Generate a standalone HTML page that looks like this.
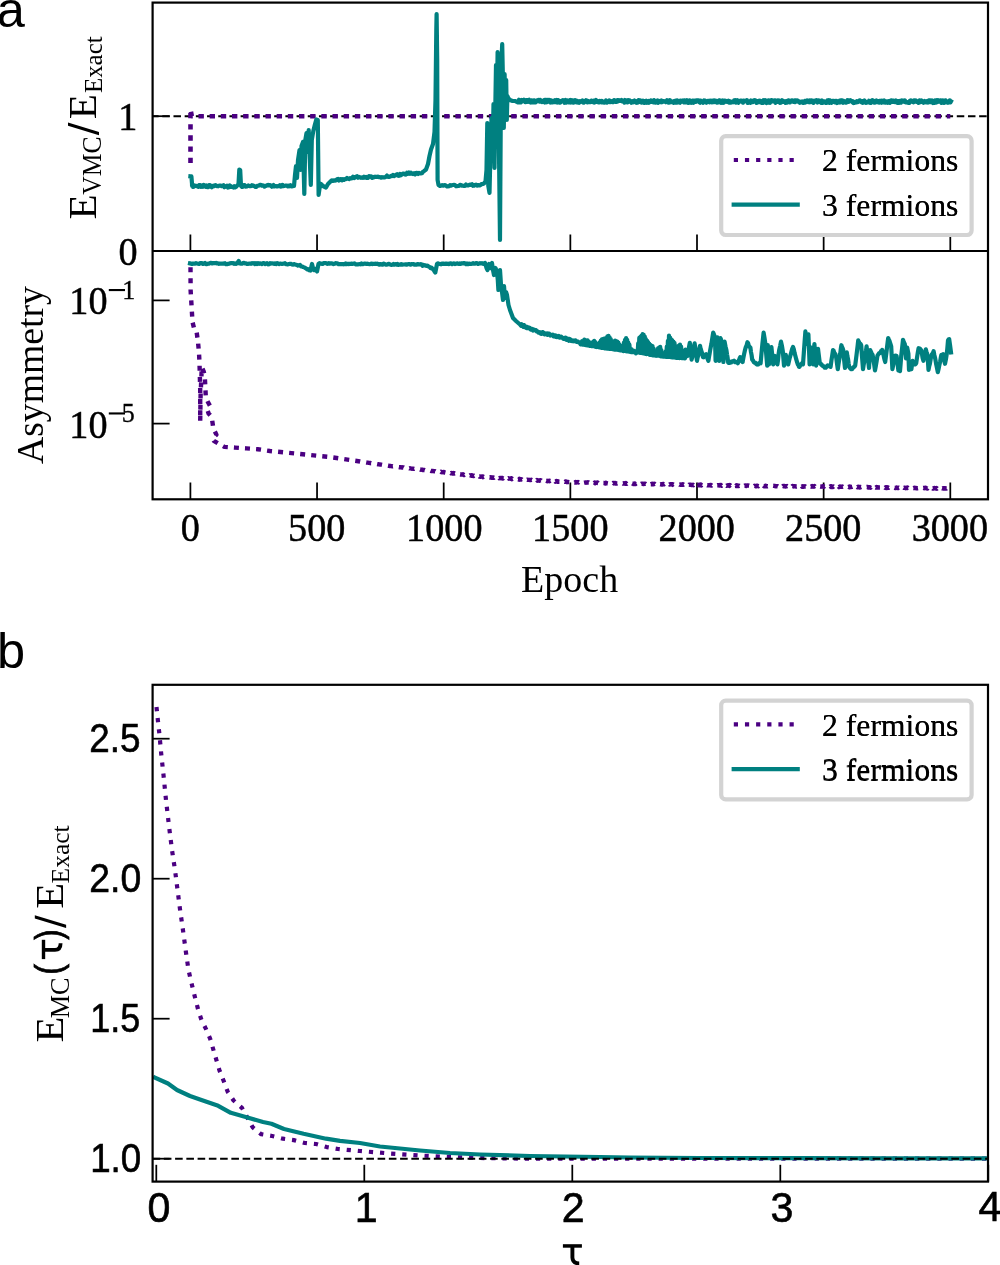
<!DOCTYPE html>
<html><head><meta charset="utf-8"><style>
html,body{margin:0;padding:0;background:#fff;}
svg{display:block;will-change:transform;}
.tk text, text.tk{font-family:"Liberation Serif",serif;font-size:38.5px;fill:#000;}
.tk .sup{font-size:27px;}
.sub{font-size:27px;}
.sk text{font-family:"Liberation Sans",sans-serif;font-size:40.5px;fill:#000;}
.ss{font-family:"Liberation Sans",sans-serif;}
.lg{font-family:"Liberation Serif",serif;font-size:31.7px;fill:#000;}
.pl{font-family:"Liberation Sans",sans-serif;font-size:50.5px;fill:#000;}
</style></head><body>
<svg width="1000" height="1265" viewBox="0 0 1000 1265">
<rect width="1000" height="1265" fill="#fff"/>
<g stroke="#000" stroke-width="1.75" fill="none" stroke-linecap="butt">
<line x1="190.4" y1="234.5" x2="190.4" y2="251"/>
<line x1="190.4" y1="482.5" x2="190.4" y2="499.3"/>
<line x1="317.05" y1="234.5" x2="317.05" y2="251"/>
<line x1="317.05" y1="482.5" x2="317.05" y2="499.3"/>
<line x1="443.7" y1="234.5" x2="443.7" y2="251"/>
<line x1="443.7" y1="482.5" x2="443.7" y2="499.3"/>
<line x1="570.35" y1="234.5" x2="570.35" y2="251"/>
<line x1="570.35" y1="482.5" x2="570.35" y2="499.3"/>
<line x1="697.0" y1="234.5" x2="697.0" y2="251"/>
<line x1="697.0" y1="482.5" x2="697.0" y2="499.3"/>
<line x1="823.65" y1="234.5" x2="823.65" y2="251"/>
<line x1="823.65" y1="482.5" x2="823.65" y2="499.3"/>
<line x1="950.3" y1="234.5" x2="950.3" y2="251"/>
<line x1="950.3" y1="482.5" x2="950.3" y2="499.3"/>
<line x1="152.6" y1="116.2" x2="169.6" y2="116.2"/>
<line x1="152.6" y1="251" x2="169.6" y2="251"/>
<line x1="152.6" y1="300.4" x2="169.6" y2="300.4"/>
<line x1="152.6" y1="423.6" x2="169.6" y2="423.6"/>
<line x1="156.3" y1="1164.8" x2="156.3" y2="1181.6"/>
<line x1="364.3" y1="1164.8" x2="364.3" y2="1181.6"/>
<line x1="572.3" y1="1164.8" x2="572.3" y2="1181.6"/>
<line x1="780.3" y1="1164.8" x2="780.3" y2="1181.6"/>
<line x1="988.3" y1="1164.8" x2="988.3" y2="1181.6"/>
<line x1="152.6" y1="1158.7" x2="169.6" y2="1158.7"/>
<line x1="152.6" y1="1018.7" x2="169.6" y2="1018.7"/>
<line x1="152.6" y1="878.7" x2="169.6" y2="878.7"/>
<line x1="152.6" y1="738.7" x2="169.6" y2="738.7"/>
</g>
<line x1="152.6" y1="116.2" x2="988" y2="116.2" stroke="#000" stroke-width="2" stroke-dasharray="7.5 3.69" stroke-dashoffset="1.5"/>
<clipPath id="cA"><rect x="152.6" y="2.6" width="835.4" height="248.4"/></clipPath>
<clipPath id="cB"><rect x="152.6" y="251" width="835.4" height="248.3"/></clipPath>
<clipPath id="cC"><rect x="152.6" y="684.8" width="835.4" height="496.8"/></clipPath>
<g clip-path="url(#cA)">
<polyline points="190.5,166.0 190.5,109.5 191.8,116.2 950.3,116.2" fill="none" stroke="#4B0082" stroke-width="4.6" stroke-linejoin="round" stroke-linecap="butt" stroke-dasharray="5.4 5.77"  stroke-dashoffset="8.21"/>
<polyline points="190.4,176.3 191.4,176.4 192.2,186.0 192.0,185.1 192.9,186.9 193.8,186.7 194.7,185.5 195.6,186.0 196.5,185.9 197.4,186.4 198.3,186.8 199.2,185.1 200.1,185.0 201.0,186.9 201.9,186.0 202.8,186.8 203.7,184.9 204.6,186.0 205.5,186.7 206.4,185.5 207.3,187.2 208.2,187.2 209.1,185.1 210.0,185.1 210.9,186.3 211.8,187.3 212.7,186.0 213.6,185.6 214.5,186.1 215.4,185.1 216.3,185.6 217.2,186.1 218.1,186.3 219.0,185.7 219.9,185.7 220.8,185.6 221.7,186.2 222.6,185.8 223.5,185.2 224.4,187.2 225.3,186.5 226.2,186.7 227.1,185.6 228.0,187.6 228.9,187.3 229.8,185.5 230.7,186.0 231.6,187.0 232.5,187.0 233.4,187.5 234.3,186.3 235.2,187.3 236.1,186.9 238.5,184.0 239.3,169.5 240.2,170.0 241.0,186.0 242.0,186.9 242.9,186.9 243.8,185.1 244.7,185.1 245.6,186.6 246.5,186.4 247.4,186.3 248.3,185.5 249.2,186.1 250.1,186.1 251.0,186.1 251.9,185.2 252.8,185.8 253.7,185.7 254.6,186.3 255.5,186.9 256.4,186.8 257.3,185.9 258.2,185.7 259.1,185.4 260.0,184.9 260.9,184.9 261.8,185.7 262.7,185.4 263.6,185.5 264.5,186.6 265.4,185.8 266.3,185.9 267.2,185.2 268.1,184.8 269.0,185.4 269.9,185.0 270.8,185.7 271.7,186.7 272.6,186.1 273.5,185.1 274.4,186.5 275.3,186.3 276.2,186.1 277.1,186.5 278.0,186.2 278.9,186.2 279.8,185.3 280.7,186.6 281.6,186.5 282.5,184.9 283.4,186.1 284.3,186.0 285.2,185.5 286.1,185.6 287.0,185.5 287.9,186.4 288.8,185.6 289.7,186.2 290.6,185.2 291.5,186.3 292.4,186.3 294.0,186.0 295.0,175.0 296.0,166.0 297.0,178.0 298.0,160.0 299.5,150.0 300.5,170.0 301.5,146.0 303.0,142.0 304.3,194.0 305.3,140.0 306.5,133.0 307.5,152.0 308.7,130.0 309.8,160.0 310.8,185.0 311.8,140.0 313.3,131.0 314.8,125.0 316.3,119.5 317.8,120.0 318.6,195.0 319.6,188.0 321.0,184.0 323.0,186.0 326.0,187.5 328.0,184.0 331.0,181.0 332.0,180.3 333.0,180.8 334.0,180.3 335.0,180.6 336.0,180.5 337.0,179.3 338.0,179.0 339.0,180.5 340.0,179.2 341.0,179.0 342.0,180.4 343.0,179.2 344.0,179.8 345.0,179.0 346.0,179.1 347.0,178.0 348.0,178.8 349.0,179.1 350.0,178.2 351.0,178.5 352.0,178.2 353.0,176.8 354.0,178.0 355.0,177.5 356.0,176.8 357.0,176.1 358.0,177.7 359.0,176.9 360.0,177.4 361.0,177.8 362.0,177.4 363.0,177.8 364.0,176.8 365.0,177.6 366.0,176.9 367.0,177.9 368.0,177.8 369.0,176.2 370.0,176.3 371.0,176.4 372.0,177.9 373.0,176.9 374.0,177.3 375.0,176.6 376.0,177.0 377.0,176.8 378.0,176.7 379.0,177.2 380.0,177.2 381.0,177.7 382.0,177.1 383.0,177.5 384.0,177.3 385.0,177.4 386.0,176.7 387.0,175.5 388.0,176.8 389.0,176.9 390.0,176.7 391.0,175.9 392.0,176.1 393.0,175.0 394.0,176.1 395.0,175.5 396.0,174.8 397.0,174.2 398.0,175.7 399.0,175.8 400.0,173.9 401.0,175.2 402.0,174.2 403.0,173.6 404.0,173.7 405.0,174.5 406.0,174.6 407.0,172.8 408.0,173.8 409.0,172.5 410.0,173.7 411.0,172.8 412.0,173.8 413.0,174.1 414.0,173.3 415.0,174.4 416.0,173.1 417.0,172.8 418.0,173.9 419.0,172.9 420.0,173.4 421.0,173.3 422.0,173.2 423.0,171.8 424.0,171.1 426.0,169.5 428.0,164.0 429.5,156.0 431.0,149.5 433.0,144.0 434.5,132.0 435.5,100.0 436.3,30.0 436.6,14.0 437.2,60.0 437.6,180.0 438.5,185.0 440.0,186.0 441.0,185.5 442.0,185.2 443.0,185.7 444.0,185.3 445.0,185.1 446.0,185.6 447.0,186.5 448.0,186.3 449.0,186.2 450.0,185.2 451.0,185.7 452.0,185.2 453.0,185.0 454.0,184.9 455.0,185.0 456.0,186.3 457.0,186.1 458.0,186.0 459.0,186.0 460.0,184.8 461.0,185.0 462.0,185.6 463.0,185.7 464.0,185.9 465.0,185.9 466.0,184.5 467.0,185.4 468.0,185.5 469.0,185.1 470.0,184.5 471.0,185.0 472.0,184.3 473.0,185.8 474.0,185.6 475.0,185.0 476.0,184.6 477.0,185.6 478.0,185.0 479.0,185.5 480.0,185.4 481.0,184.5 482.0,184.0 483.0,184.0 484.0,183.4 485.5,181.5 486.5,170.0 487.3,123.0 488.3,186.0 489.5,193.0 490.5,150.0 491.5,118.0 492.5,160.0 493.5,104.0 494.5,168.0 495.3,108.0 496.0,65.0 496.8,115.0 497.6,52.0 498.4,95.0 499.2,170.0 500.0,240.0 500.8,110.0 501.6,58.0 502.2,44.0 503.0,82.0 503.8,128.0 504.6,74.0 505.4,110.0 506.2,80.0 506.8,120.0 507.4,96.0 508.3,98.0 510.0,100.0 512.0,100.8 515.0,101.0 516.0,101.4 516.5,101.7 517.0,101.8 517.5,102.3 518.0,101.7 518.5,102.2 519.0,99.7 519.5,100.9 520.0,102.3 520.5,101.5 521.0,102.2 521.5,100.0 522.0,101.0 522.5,100.3 523.0,101.2 523.5,101.3 524.0,99.7 524.5,100.3 525.0,100.4 525.5,102.2 526.0,101.8 526.5,100.1 527.0,101.9 527.5,100.1 528.0,101.4 528.5,100.0 529.0,99.7 529.5,102.1 530.0,100.3 530.5,100.3 531.0,102.5 531.5,102.2 532.0,100.5 532.5,102.4 533.0,101.2 533.5,101.6 534.0,100.3 534.5,102.4 535.0,101.7 535.5,102.4 536.0,102.2 536.5,100.6 537.0,100.8 537.5,100.2 538.0,100.2 538.5,99.9 539.0,100.6 539.5,101.5 540.0,99.8 540.5,101.7 541.0,100.7 541.5,100.6 542.0,102.1 542.5,101.1 543.0,100.7 543.5,101.1 544.0,101.8 544.5,100.0 545.0,102.5 545.5,99.9 546.0,101.9 546.5,102.2 547.0,99.9 547.5,102.0 548.0,100.8 548.5,101.4 549.0,99.9 549.5,100.0 550.0,100.3 550.5,102.5 551.0,100.4 551.5,102.0 552.0,102.4 552.5,102.5 553.0,100.8 553.5,100.9 554.0,101.3 554.5,102.0 555.0,100.2 555.5,102.0 556.0,102.1 556.5,102.3 557.0,100.0 557.5,102.5 558.0,100.1 558.5,100.8 559.0,101.6 559.5,102.5 560.0,100.9 560.5,102.5 561.0,101.4 561.5,100.8 562.0,100.8 562.5,100.4 563.0,100.1 563.5,100.3 564.0,101.8 564.5,102.7 565.0,100.4 565.5,100.0 566.0,102.7 566.5,101.4 567.0,101.1 567.5,100.6 568.0,101.6 568.5,102.2 569.0,101.2 569.5,101.1 570.0,100.1 570.5,102.5 571.0,100.0 571.5,101.3 572.0,102.3 572.5,100.3 573.0,102.0 573.5,102.6 574.0,101.7 574.5,102.1 575.0,100.2 575.5,101.1 576.0,100.4 576.5,102.3 577.0,100.8 577.5,101.2 578.0,102.7 578.5,102.3 579.0,102.7 579.5,101.2 580.0,101.3 580.5,102.0 581.0,101.3 581.5,100.8 582.0,101.1 582.5,100.4 583.0,101.0 583.5,102.7 584.0,102.6 584.5,101.7 585.0,101.4 585.5,100.9 586.0,100.2 586.5,100.7 587.0,102.1 587.5,102.4 588.0,101.0 588.5,102.2 589.0,102.1 589.5,101.9 590.0,101.8 590.5,102.1 591.0,101.0 591.5,101.9 592.0,100.8 592.5,101.3 593.0,102.1 593.5,101.9 594.0,100.8 594.5,102.6 595.0,101.8 595.5,101.6 596.0,100.0 596.5,101.5 597.0,100.7 597.5,101.9 598.0,101.3 598.5,102.3 599.0,101.8 599.5,102.2 600.0,101.0 600.5,101.8 601.0,102.1 601.5,102.3 602.0,101.0 602.5,102.4 603.0,102.4 603.5,101.9 604.0,102.7 604.5,102.7 605.0,101.4 605.5,101.5 606.0,100.5 606.5,102.3 607.0,102.6 607.5,101.3 608.0,101.9 608.5,102.0 609.0,102.0 609.5,100.5 610.0,102.2 610.5,101.6 611.0,101.9 611.5,101.2 612.0,101.8 612.5,102.2 613.0,101.8 613.5,102.0 614.0,100.1 614.5,100.5 615.0,101.3 615.5,101.8 616.0,100.6 616.5,101.9 617.0,101.8 617.5,100.1 618.0,101.3 618.5,100.7 619.0,100.2 619.5,100.4 620.0,100.9 620.5,100.5 621.0,100.6 621.5,100.1 622.0,101.3 622.5,101.1 623.0,101.7 623.5,101.7 624.0,100.7 624.5,102.6 625.0,100.0 625.5,101.2 626.0,100.8 626.5,101.2 627.0,100.4 627.5,102.4 628.0,101.1 628.5,100.1 629.0,101.8 629.5,100.3 630.0,101.6 630.5,101.0 631.0,101.7 631.5,102.7 632.0,102.3 632.5,101.2 633.0,102.3 633.5,101.9 634.0,101.1 634.5,100.5 635.0,101.7 635.5,101.6 636.0,102.7 636.5,102.8 637.0,101.8 637.5,101.0 638.0,102.6 638.5,100.1 639.0,100.4 639.5,101.7 640.0,101.8 640.5,100.5 641.0,101.8 641.5,102.6 642.0,101.1 642.5,101.3 643.0,100.7 643.5,100.9 644.0,102.8 644.5,101.1 645.0,102.8 645.5,102.6 646.0,101.8 646.5,100.8 647.0,102.8 647.5,101.5 648.0,101.3 648.5,101.0 649.0,102.8 649.5,101.5 650.0,100.9 650.5,101.4 651.0,100.4 651.5,101.8 652.0,101.3 652.5,100.9 653.0,102.3 653.5,102.4 654.0,100.1 654.5,101.6 655.0,100.9 655.5,102.7 656.0,102.3 656.5,100.8 657.0,100.9 657.5,100.5 658.0,102.9 658.5,100.9 659.0,101.8 659.5,101.4 660.0,101.9 660.5,101.8 661.0,102.2 661.5,100.4 662.0,102.2 662.5,101.0 663.0,101.6 663.5,101.1 664.0,101.0 664.5,101.6 665.0,101.4 665.5,101.1 666.0,102.2 666.5,101.8 667.0,100.2 667.5,100.8 668.0,101.4 668.5,102.7 669.0,102.6 669.5,101.7 670.0,100.2 670.5,102.3 671.0,101.3 671.5,101.8 672.0,102.1 672.5,101.9 673.0,101.5 673.5,102.7 674.0,101.2 674.5,101.2 675.0,102.5 675.5,100.7 676.0,101.0 676.5,102.5 677.0,100.3 677.5,102.5 678.0,102.1 678.5,101.4 679.0,101.0 679.5,102.3 680.0,102.7 680.5,100.6 681.0,101.5 681.5,101.7 682.0,101.6 682.5,101.1 683.0,100.6 683.5,101.8 684.0,102.4 684.5,100.4 685.0,100.8 685.5,102.5 686.0,102.4 686.5,102.0 687.0,100.2 687.5,102.2 688.0,102.9 688.5,103.0 689.0,102.1 689.5,100.3 690.0,102.5 690.5,100.8 691.0,102.0 691.5,102.8 692.0,102.2 692.5,100.6 693.0,101.0 693.5,102.8 694.0,100.6 694.5,101.9 695.0,101.3 695.5,100.6 696.0,101.9 696.5,100.3 697.0,100.5 697.5,101.3 698.0,100.4 698.5,100.4 699.0,101.8 699.5,102.3 700.0,102.7 700.5,100.6 701.0,101.4 701.5,101.1 702.0,101.9 702.5,101.6 703.0,102.8 703.5,101.2 704.0,100.4 704.5,102.2 705.0,100.6 705.5,102.0 706.0,101.6 706.5,102.7 707.0,101.8 707.5,101.9 708.0,100.9 708.5,101.7 709.0,100.9 709.5,102.3 710.0,101.6 710.5,100.6 711.0,100.9 711.5,101.2 712.0,102.3 712.5,100.7 713.0,102.2 713.5,102.0 714.0,100.4 714.5,102.1 715.0,100.5 715.5,100.5 716.0,101.9 716.5,100.9 717.0,102.7 717.5,101.5 718.0,101.1 718.5,102.4 719.0,100.3 719.5,102.2 720.0,100.4 720.5,100.6 721.0,102.9 721.5,102.1 722.0,100.8 722.5,100.5 723.0,102.9 723.5,102.1 724.0,102.5 724.5,100.6 725.0,101.9 725.5,101.2 726.0,100.9 726.5,101.1 727.0,101.9 727.5,101.2 728.0,101.3 728.5,100.6 729.0,102.5 729.5,102.0 730.0,102.5 730.5,101.4 731.0,102.6 731.5,101.6 732.0,101.9 732.5,101.8 733.0,102.3 733.5,101.3 734.0,100.5 734.5,100.3 735.0,100.8 735.5,100.3 736.0,102.7 736.5,101.5 737.0,102.3 737.5,100.2 738.0,101.5 738.5,102.7 739.0,101.9 739.5,101.4 740.0,101.5 740.5,100.5 741.0,100.6 741.5,100.6 742.0,101.2 742.5,101.3 743.0,102.7 743.5,100.6 744.0,100.9 744.5,101.0 745.0,100.7 745.5,101.0 746.0,100.9 746.5,101.5 747.0,100.3 747.5,102.8 748.0,101.2 748.5,102.8 749.0,102.1 749.5,102.1 750.0,101.5 750.5,102.8 751.0,100.5 751.5,102.1 752.0,101.0 752.5,102.1 753.0,102.2 753.5,100.7 754.0,100.8 754.5,100.3 755.0,100.8 755.5,100.4 756.0,101.3 756.5,102.9 757.0,101.2 757.5,101.1 758.0,101.5 758.5,101.0 759.0,102.3 759.5,102.2 760.0,100.7 760.5,100.9 761.0,102.1 761.5,102.8 762.0,102.0 762.5,101.4 763.0,102.9 763.5,100.2 764.0,100.4 764.5,102.4 765.0,101.3 765.5,100.3 766.0,101.7 766.5,103.0 767.0,101.7 767.5,101.2 768.0,100.5 768.5,100.4 769.0,102.7 769.5,101.6 770.0,102.8 770.5,100.4 771.0,100.9 771.5,100.3 772.0,101.3 772.5,100.4 773.0,100.9 773.5,101.3 774.0,101.1 774.5,100.3 775.0,100.3 775.5,102.9 776.0,100.7 776.5,101.6 777.0,101.3 777.5,101.7 778.0,100.4 778.5,101.1 779.0,100.5 779.5,101.7 780.0,102.8 780.5,101.9 781.0,102.6 781.5,100.8 782.0,100.2 782.5,101.7 783.0,101.6 783.5,101.8 784.0,101.3 784.5,102.0 785.0,102.2 785.5,102.8 786.0,101.1 786.5,101.5 787.0,102.5 787.5,100.8 788.0,100.5 788.5,101.1 789.0,100.4 789.5,102.4 790.0,102.5 790.5,101.1 791.0,100.6 791.5,100.4 792.0,100.9 792.5,100.4 793.0,101.4 793.5,101.8 794.0,100.9 794.5,100.4 795.0,102.2 795.5,100.3 796.0,100.8 796.5,101.0 797.0,101.2 797.5,100.5 798.0,101.4 798.5,101.1 799.0,102.3 799.5,101.8 800.0,102.7 800.5,102.0 801.0,102.3 801.5,101.8 802.0,101.4 802.5,102.5 803.0,102.0 803.5,102.9 804.0,102.2 804.5,102.2 805.0,100.9 805.5,102.5 806.0,101.3 806.5,100.6 807.0,100.4 807.5,100.7 808.0,100.9 808.5,102.1 809.0,101.0 809.5,100.4 810.0,102.3 810.5,101.8 811.0,100.3 811.5,100.3 812.0,100.6 812.5,101.2 813.0,102.6 813.5,102.9 814.0,101.9 814.5,100.8 815.0,101.4 815.5,101.2 816.0,101.1 816.5,100.2 817.0,101.8 817.5,102.5 818.0,102.2 818.5,100.5 819.0,101.7 819.5,100.7 820.0,102.2 820.5,101.4 821.0,102.8 821.5,102.4 822.0,100.5 822.5,101.1 823.0,102.8 823.5,101.5 824.0,101.4 824.5,101.4 825.0,102.3 825.5,102.8 826.0,101.7 826.5,102.9 827.0,101.9 827.5,100.5 828.0,102.5 828.5,101.4 829.0,100.3 829.5,102.9 830.0,100.3 830.5,101.8 831.0,101.5 831.5,102.7 832.0,101.3 832.5,100.8 833.0,101.0 833.5,100.8 834.0,101.8 834.5,101.2 835.0,102.3 835.5,100.9 836.0,101.2 836.5,100.9 837.0,103.0 837.5,102.6 838.0,102.6 838.5,101.9 839.0,101.3 839.5,100.6 840.0,102.5 840.5,101.6 841.0,100.3 841.5,100.7 842.0,100.5 842.5,102.2 843.0,102.7 843.5,100.8 844.0,102.4 844.5,101.1 845.0,102.1 845.5,102.6 846.0,101.9 846.5,102.4 847.0,101.3 847.5,100.2 848.0,101.6 848.5,101.8 849.0,100.7 849.5,101.3 850.0,101.1 850.5,100.3 851.0,101.1 851.5,101.3 852.0,101.5 852.5,102.2 853.0,101.3 853.5,103.0 854.0,102.5 854.5,102.8 855.0,102.1 855.5,102.1 856.0,101.7 856.5,102.4 857.0,101.2 857.5,101.9 858.0,102.1 858.5,101.7 859.0,101.0 859.5,100.4 860.0,100.4 860.5,101.2 861.0,101.8 861.5,102.3 862.0,102.2 862.5,101.1 863.0,102.8 863.5,101.0 864.0,102.2 864.5,100.4 865.0,102.3 865.5,102.1 866.0,102.9 866.5,102.7 867.0,102.1 867.5,102.5 868.0,102.3 868.5,101.9 869.0,100.8 869.5,101.6 870.0,102.7 870.5,100.9 871.0,102.9 871.5,101.7 872.0,101.3 872.5,100.2 873.0,101.3 873.5,100.7 874.0,102.0 874.5,102.7 875.0,102.7 875.5,101.9 876.0,101.3 876.5,100.5 877.0,102.1 877.5,101.7 878.0,102.2 878.5,101.2 879.0,102.7 879.5,100.8 880.0,101.1 880.5,100.9 881.0,101.9 881.5,102.7 882.0,100.7 882.5,102.0 883.0,102.3 883.5,100.8 884.0,100.4 884.5,101.8 885.0,102.5 885.5,102.7 886.0,102.2 886.5,101.4 887.0,101.4 887.5,101.7 888.0,102.7 888.5,101.0 889.0,101.0 889.5,101.9 890.0,102.9 890.5,100.7 891.0,100.3 891.5,100.5 892.0,101.8 892.5,101.9 893.0,100.7 893.5,100.7 894.0,101.9 894.5,102.0 895.0,102.1 895.5,102.2 896.0,100.4 896.5,101.6 897.0,102.5 897.5,102.9 898.0,101.1 898.5,102.6 899.0,102.0 899.5,102.8 900.0,100.8 900.5,102.2 901.0,102.6 901.5,101.5 902.0,100.5 902.5,100.7 903.0,100.6 903.5,100.5 904.0,100.6 904.5,101.9 905.0,100.5 905.5,102.3 906.0,102.3 906.5,102.5 907.0,102.5 907.5,102.2 908.0,102.8 908.5,102.9 909.0,102.0 909.5,102.9 910.0,100.5 910.5,100.5 911.0,100.4 911.5,100.8 912.0,101.2 912.5,101.5 913.0,102.1 913.5,102.3 914.0,100.4 914.5,101.3 915.0,101.7 915.5,101.3 916.0,100.5 916.5,101.9 917.0,101.2 917.5,102.1 918.0,101.6 918.5,102.9 919.0,102.8 919.5,100.4 920.0,102.3 920.5,102.2 921.0,101.0 921.5,100.5 922.0,101.5 922.5,101.2 923.0,102.3 923.5,102.8 924.0,101.3 924.5,101.0 925.0,101.6 925.5,102.2 926.0,102.4 926.5,101.8 927.0,101.0 927.5,101.1 928.0,102.6 928.5,101.7 929.0,100.3 929.5,101.4 930.0,100.9 930.5,102.1 931.0,100.4 931.5,101.0 932.0,100.5 932.5,101.5 933.0,103.0 933.5,101.7 934.0,101.3 934.5,102.8 935.0,100.5 935.5,101.2 936.0,102.5 936.5,100.2 937.0,102.3 937.5,101.2 938.0,100.2 938.5,100.9 939.0,101.5 939.5,101.3 940.0,101.6 940.5,100.3 941.0,100.8 941.5,102.9 942.0,101.4 942.5,101.5 943.0,100.4 943.5,101.0 944.0,102.9 944.5,102.1 945.0,101.6 945.5,100.3 946.0,101.3 946.5,102.4 947.0,101.4 947.5,101.9 948.0,102.7 948.5,102.0 949.0,102.0 949.5,100.3 950.0,100.3 950.5,102.4 951.0,101.4" fill="none" stroke="#008080" stroke-width="4.2" stroke-linejoin="round" stroke-linecap="square" />
</g>
<g clip-path="url(#cB)">
<polyline points="190.5,264.0 190.6,290.0 191.5,305.0 192.5,322.0 194.0,328.0 196.5,331.0 198.0,342.0 199.0,353.0 199.5,363.0 200.2,390.0 200.2,421.0 200.6,395.0 201.8,367.0 203.5,371.0 204.7,375.0 205.3,386.0 205.8,397.0 207.9,402.0 210.0,405.8 207.6,410.5 208.6,413.5 211.7,417.0 213.3,428.2 216.4,434.6 212.6,438.5 213.8,440.8 218.6,443.7 224.4,446.9 235.0,447.6 246.3,448.4 257.7,449.2 270.0,451.0 300.0,454.0 330.0,457.0 360.0,461.5 360.5,461.6 361.0,461.6 361.5,461.7 362.0,461.8 362.5,461.9 363.0,461.9 363.5,462.0 364.0,462.1 364.5,462.2 365.0,462.3 365.5,462.3 366.0,462.4 366.5,462.5 367.0,462.6 367.5,462.6 368.0,462.7 368.5,462.8 369.0,462.9 369.5,462.9 370.0,463.0 370.5,463.0 371.0,463.2 371.5,463.2 372.0,463.3 372.5,463.4 373.0,463.4 373.5,463.5 374.0,463.6 374.5,463.7 375.0,463.8 375.5,463.8 376.0,463.9 376.5,464.0 377.0,464.1 377.5,464.2 378.0,464.2 378.5,464.2 379.0,464.3 379.5,464.4 380.0,464.5 380.5,464.6 381.0,464.6 381.5,464.7 382.0,464.8 382.5,464.9 383.0,464.9 383.5,465.1 384.0,465.0 384.5,465.2 385.0,465.3 385.5,465.4 386.0,465.5 386.5,465.5 387.0,465.5 387.5,465.6 388.0,465.7 388.5,465.8 389.0,465.8 389.5,466.0 390.0,466.0 390.5,466.0 391.0,466.1 391.5,466.1 392.0,466.2 392.5,466.4 393.0,466.3 393.5,466.5 394.0,466.6 394.5,466.6 395.0,466.5 395.5,466.6 396.0,466.7 396.5,466.7 397.0,466.8 397.5,466.8 398.0,467.0 398.5,467.1 399.0,467.2 399.5,467.2 400.0,467.2 400.5,467.1 401.0,467.3 401.5,467.4 402.0,467.5 402.5,467.3 403.0,467.4 403.5,467.5 404.0,467.8 404.5,467.6 405.0,467.7 405.5,467.8 406.0,468.0 406.5,467.8 407.0,467.9 407.5,468.1 408.0,468.0 408.5,468.1 409.0,468.1 409.5,468.4 410.0,468.2 410.5,468.4 411.0,468.4 411.5,468.7 412.0,468.6 412.5,468.7 413.0,468.7 413.5,468.7 414.0,468.9 414.5,468.7 415.0,469.0 415.5,468.9 416.0,469.0 416.5,469.1 417.0,469.0 417.5,469.2 418.0,469.1 418.5,469.1 419.0,469.2 419.5,469.3 420.0,469.5 420.5,469.7 421.0,469.6 421.5,469.7 422.0,469.8 422.5,469.7 423.0,470.0 423.5,469.9 424.0,470.0 424.5,470.0 425.0,470.2 425.5,470.3 426.0,470.1 426.5,470.4 427.0,470.3 427.5,470.3 428.0,470.6 428.5,470.7 429.0,470.7 429.5,470.5 430.0,470.9 430.5,470.8 431.0,471.0 431.5,471.0 432.0,471.1 432.5,470.9 433.0,471.1 433.5,471.2 434.0,471.1 434.5,471.2 435.0,471.2 435.5,471.5 436.0,471.3 436.5,471.5 437.0,471.5 437.5,471.6 438.0,471.5 438.5,471.4 439.0,471.8 439.5,471.6 440.0,471.8 440.5,472.0 441.0,471.7 441.5,472.2 442.0,472.1 442.5,472.2 443.0,472.3 443.5,472.0 444.0,472.0 444.5,472.5 445.0,472.5 445.5,472.6 446.0,472.7 446.5,472.5 447.0,472.5 447.5,473.0 448.0,472.5 448.5,472.8 449.0,473.0 449.5,473.2 450.0,473.0 450.5,472.8 451.0,473.2 451.5,472.9 452.0,473.2 452.5,473.4 453.0,473.6 453.5,473.1 454.0,473.6 454.5,473.3 455.0,473.5 455.5,473.9 456.0,473.9 456.5,473.5 457.0,473.5 457.5,473.6 458.0,474.1 458.5,473.7 459.0,474.2 459.5,474.3 460.0,474.4 460.5,474.5 461.0,474.4 461.5,474.6 462.0,474.4 462.5,474.6 463.0,474.2 463.5,474.6 464.0,475.0 464.5,474.6 465.0,474.9 465.5,474.6 466.0,474.9 466.5,475.0 467.0,475.2 467.5,474.9 468.0,475.1 468.5,474.9 469.0,475.3 469.5,475.6 470.0,475.3 470.5,475.5 471.0,475.5 471.5,475.3 472.0,475.7 472.5,475.4 473.0,475.8 473.5,476.1 474.0,475.7 474.5,476.0 475.0,475.8 475.5,476.1 476.0,475.8 476.5,476.1 477.0,476.4 477.5,476.0 478.0,476.2 478.5,476.1 479.0,476.1 479.5,476.6 480.0,476.5 480.5,476.8 481.0,476.6 481.5,476.6 482.0,476.5 482.5,476.5 483.0,477.1 483.5,476.7 484.0,476.9 484.5,476.7 485.0,476.6 485.5,476.5 486.0,476.8 486.5,476.9 487.0,477.0 487.5,477.2 488.0,477.2 488.5,477.4 489.0,477.4 489.5,477.4 490.0,477.5 490.5,477.3 491.0,477.3 491.5,477.7 492.0,477.7 492.5,477.4 493.0,477.8 493.5,477.5 494.0,477.7 494.5,477.2 495.0,477.7 495.5,478.0 496.0,477.7 496.5,478.0 497.0,477.9 497.5,477.4 498.0,477.5 498.5,477.8 499.0,478.3 499.5,478.1 500.0,478.0 500.5,478.1 501.0,478.3 501.5,478.0 502.0,477.9 502.5,478.1 503.0,478.5 503.5,478.0 504.0,478.3 504.5,478.1 505.0,478.2 505.5,478.1 506.0,478.7 506.5,478.2 507.0,478.7 507.5,478.3 508.0,478.5 508.5,478.2 509.0,478.7 509.5,478.6 510.0,478.6 510.5,478.5 511.0,478.8 511.5,478.4 512.0,479.1 512.5,478.8 513.0,479.0 513.5,478.8 514.0,478.6 514.5,478.6 515.0,479.2 515.5,479.0 516.0,478.9 516.5,479.1 517.0,479.4 517.5,479.2 518.0,479.2 518.5,479.3 519.0,479.6 519.5,478.9 520.0,479.5 520.5,479.4 521.0,479.6 521.5,479.2 522.0,479.7 522.5,479.7 523.0,479.4 523.5,479.9 524.0,479.3 524.5,479.7 525.0,479.4 525.5,479.5 526.0,479.8 526.5,479.9 527.0,479.8 527.5,479.6 528.0,479.9 528.5,479.9 529.0,479.8 529.5,479.9 530.0,480.0 530.5,480.0 531.0,480.0 531.5,479.8 532.0,480.1 532.5,480.0 533.0,480.4 533.5,480.5 534.0,480.4 534.5,480.1 535.0,480.2 535.5,480.5 536.0,480.1 536.5,480.6 537.0,480.0 537.5,480.7 538.0,480.4 538.5,480.6 539.0,480.5 539.5,480.7 540.0,480.4 540.5,480.2 541.0,480.3 541.5,480.8 542.0,481.0 542.5,480.4 543.0,480.6 543.5,480.9 544.0,480.6 544.5,480.5 545.0,481.0 545.5,480.5 546.0,480.7 546.5,480.9 547.0,480.8 547.5,481.2 548.0,480.9 548.5,480.9 549.0,480.7 549.5,481.2 550.0,480.7 550.5,480.7 551.0,480.9 551.5,481.3 552.0,480.9 552.5,481.1 553.0,480.8 553.5,481.0 554.0,481.5 554.5,481.5 555.0,480.9 555.5,481.6 556.0,481.3 556.5,481.0 557.0,481.2 557.5,481.7 558.0,481.2 558.5,481.6 559.0,481.8 559.5,481.8 560.0,481.7 560.5,481.8 561.0,481.3 561.5,481.7 562.0,482.0 562.5,481.6 563.0,481.3 563.5,481.5 564.0,481.7 564.5,481.7 565.0,481.9 565.5,481.5 566.0,481.4 566.5,481.9 567.0,482.2 567.5,481.9 568.0,482.0 568.5,482.1 569.0,482.1 569.5,482.2 570.0,482.0 570.5,481.7 571.0,482.2 571.5,482.0 572.0,482.0 572.5,482.3 573.0,481.8 573.5,482.4 574.0,482.4 574.5,482.4 575.0,482.5 575.5,482.0 576.0,482.3 576.5,482.5 577.0,482.3 577.5,482.4 578.0,482.0 578.5,482.4 579.0,481.9 579.5,482.3 580.0,482.0 580.5,482.2 581.0,482.1 581.5,482.2 582.0,482.1 582.5,482.6 583.0,482.5 583.5,482.7 584.0,482.7 584.5,482.6 585.0,482.6 585.5,482.5 586.0,482.7 586.5,482.5 587.0,482.5 587.5,482.5 588.0,482.2 588.5,482.4 589.0,482.7 589.5,482.6 590.0,482.6 590.5,482.4 591.0,482.4 591.5,483.0 592.0,483.0 592.5,482.6 593.0,483.1 593.5,482.8 594.0,483.0 594.5,482.6 595.0,483.2 595.5,482.8 596.0,482.6 596.5,482.6 597.0,482.6 597.5,482.5 598.0,483.1 598.5,483.2 599.0,482.8 599.5,482.8 600.0,483.0 600.5,483.3 601.0,482.8 601.5,483.3 602.0,483.3 602.5,483.0 603.0,483.0 603.5,483.0 604.0,483.0 604.5,483.2 605.0,483.2 605.5,483.5 606.0,482.8 606.5,483.0 607.0,483.2 607.5,483.4 608.0,483.5 608.5,483.4 609.0,482.9 609.5,483.4 610.0,483.0 610.5,483.2 611.0,482.9 611.5,482.9 612.0,483.2 612.5,483.5 613.0,483.1 613.5,482.9 614.0,483.4 614.5,483.1 615.0,483.0 615.5,483.1 616.0,483.6 616.5,483.6 617.0,483.3 617.5,483.3 618.0,483.5 618.5,483.3 619.0,483.3 619.5,483.6 620.0,483.5 620.5,483.7 621.0,483.5 621.5,483.7 622.0,483.7 622.5,483.3 623.0,483.6 623.5,483.5 624.0,483.2 624.5,483.3 625.0,483.4 625.5,483.8 626.0,483.2 626.5,483.9 627.0,483.9 627.5,483.5 628.0,483.7 628.5,483.4 629.0,483.2 629.5,483.2 630.0,483.8 630.5,483.4 631.0,483.6 631.5,483.5 632.0,483.3 632.5,483.6 633.0,483.6 633.5,484.0 634.0,483.7 634.5,484.0 635.0,483.6 635.5,484.0 636.0,483.7 636.5,483.4 637.0,484.1 637.5,483.9 638.0,483.8 638.5,483.7 639.0,483.4 639.5,484.1 640.0,483.5 640.5,483.5 641.0,484.0 641.5,483.7 642.0,483.7 642.5,483.7 643.0,483.8 643.5,484.1 644.0,483.8 644.5,483.6 645.0,483.9 645.5,483.8 646.0,484.2 646.5,483.6 647.0,483.9 647.5,483.9 648.0,484.2 648.5,483.7 649.0,484.2 649.5,484.0 650.0,484.0 650.5,484.3 651.0,484.3 651.5,484.0 652.0,484.2 652.5,483.8 653.0,484.3 653.5,483.9 654.0,484.1 654.5,483.8 655.0,484.4 655.5,484.0 656.0,484.2 656.5,484.1 657.0,484.3 657.5,483.9 658.0,484.4 658.5,484.1 659.0,484.3 659.5,484.5 660.0,484.3 660.5,484.4 661.0,484.2 661.5,484.2 662.0,484.6 662.5,484.2 663.0,483.9 663.5,484.1 664.0,484.3 664.5,483.9 665.0,484.0 665.5,484.4 666.0,484.1 666.5,484.7 667.0,484.1 667.5,484.2 668.0,484.1 668.5,484.3 669.0,484.0 669.5,484.5 670.0,484.1 670.5,484.1 671.0,484.3 671.5,484.1 672.0,484.3 672.5,484.8 673.0,484.3 673.5,484.6 674.0,484.6 674.5,484.6 675.0,484.5 675.5,484.5 676.0,484.6 676.5,484.3 677.0,484.2 677.5,484.3 678.0,484.2 678.5,484.5 679.0,484.3 679.5,484.6 680.0,484.7 680.5,484.4 681.0,484.8 681.5,484.6 682.0,484.5 682.5,484.7 683.0,484.3 683.5,484.7 684.0,484.4 684.5,485.0 685.0,484.7 685.5,484.7 686.0,484.5 686.5,484.4 687.0,484.5 687.5,484.6 688.0,484.5 688.5,485.1 689.0,484.6 689.5,484.7 690.0,484.7 690.5,484.7 691.0,484.6 691.5,485.0 692.0,485.1 692.5,484.9 693.0,484.7 693.5,485.1 694.0,484.5 694.5,485.0 695.0,484.9 695.5,484.7 696.0,485.3 696.5,484.6 697.0,484.8 697.5,485.1 698.0,484.6 698.5,485.2 699.0,484.6 699.5,484.7 700.0,485.0 700.5,485.3 701.0,484.7 701.5,485.3 702.0,484.8 702.5,485.0 703.0,484.9 703.5,485.2 704.0,485.2 704.5,484.8 705.0,484.9 705.5,485.1 706.0,485.4 706.5,485.1 707.0,485.2 707.5,485.4 708.0,485.3 708.5,485.4 709.0,485.1 709.5,485.3 710.0,484.9 710.5,485.0 711.0,484.9 711.5,485.5 712.0,485.0 712.5,485.2 713.0,485.1 713.5,485.1 714.0,485.0 714.5,485.2 715.0,485.2 715.5,485.3 716.0,485.4 716.5,485.6 717.0,485.3 717.5,485.3 718.0,485.1 718.5,485.2 719.0,485.2 719.5,485.5 720.0,485.0 720.5,485.3 721.0,485.1 721.5,485.7 722.0,485.1 722.5,485.4 723.0,485.2 723.5,485.5 724.0,485.0 724.5,485.6 725.0,485.3 725.5,485.3 726.0,485.5 726.5,485.8 727.0,485.5 727.5,485.5 728.0,485.2 728.5,485.2 729.0,485.2 729.5,485.8 730.0,485.1 730.5,485.7 731.0,485.4 731.5,485.7 732.0,485.5 732.5,485.9 733.0,485.5 733.5,485.3 734.0,485.5 734.5,485.6 735.0,485.3 735.5,485.7 736.0,485.9 736.5,485.2 737.0,486.0 737.5,485.5 738.0,485.7 738.5,486.0 739.0,485.7 739.5,486.0 740.0,485.8 740.5,486.0 741.0,485.9 741.5,485.7 742.0,485.5 742.5,485.8 743.0,486.0 743.5,485.4 744.0,486.0 744.5,485.7 745.0,485.5 745.5,485.5 746.0,486.0 746.5,485.7 747.0,485.4 747.5,485.6 748.0,485.5 748.5,485.6 749.0,485.6 749.5,485.8 750.0,485.5 750.5,485.5 751.0,486.0 751.5,486.2 752.0,486.0 752.5,485.6 753.0,486.2 753.5,486.1 754.0,486.2 754.5,485.8 755.0,485.9 755.5,486.0 756.0,486.3 756.5,486.3 757.0,485.8 757.5,485.6 758.0,486.0 758.5,486.2 759.0,485.7 759.5,486.3 760.0,486.0 760.5,485.7 761.0,486.2 761.5,486.2 762.0,486.4 762.5,485.9 763.0,486.0 763.5,485.7 764.0,486.2 764.5,486.4 765.0,486.4 765.5,485.7 766.0,485.8 766.5,486.4 767.0,486.4 767.5,486.2 768.0,486.3 768.5,486.0 769.0,486.2 769.5,486.4 770.0,486.0 770.5,486.0 771.0,485.9 771.5,486.1 772.0,486.2 772.5,485.9 773.0,485.8 773.5,485.9 774.0,485.8 774.5,485.9 775.0,486.1 775.5,486.3 776.0,486.1 776.5,486.3 777.0,486.1 777.5,486.2 778.0,486.5 778.5,485.9 779.0,486.3 779.5,486.0 780.0,486.0 780.5,486.3 781.0,486.5 781.5,485.8 782.0,486.0 782.5,486.5 783.0,486.0 783.5,486.2 784.0,486.0 784.5,485.9 785.0,486.4 785.5,486.5 786.0,486.3 786.5,486.4 787.0,486.1 787.5,486.5 788.0,486.1 788.5,486.0 789.0,486.3 789.5,486.0 790.0,486.5 790.5,486.2 791.0,486.5 791.5,486.4 792.0,486.6 792.5,486.0 793.0,486.1 793.5,486.4 794.0,486.1 794.5,486.3 795.0,486.1 795.5,486.4 796.0,486.5 796.5,486.6 797.0,486.5 797.5,486.1 798.0,486.1 798.5,486.6 799.0,486.4 799.5,486.0 800.0,486.5 800.5,486.2 801.0,486.5 801.5,486.0 802.0,486.6 802.5,486.2 803.0,486.7 803.5,486.7 804.0,486.2 804.5,486.6 805.0,486.3 805.5,486.7 806.0,486.3 806.5,486.5 807.0,486.7 807.5,486.0 808.0,486.4 808.5,486.7 809.0,486.8 809.5,486.7 810.0,486.5 810.5,486.6 811.0,486.7 811.5,486.4 812.0,486.1 812.5,486.6 813.0,486.7 813.5,486.4 814.0,486.6 814.5,486.1 815.0,486.8 815.5,486.4 816.0,486.2 816.5,486.3 817.0,486.3 817.5,486.4 818.0,486.4 818.5,486.6 819.0,486.7 819.5,486.2 820.0,486.5 820.5,486.6 821.0,486.7 821.5,486.4 822.0,486.4 822.5,486.2 823.0,486.6 823.5,486.3 824.0,486.7 824.5,486.2 825.0,486.9 825.5,486.7 826.0,486.4 826.5,486.6 827.0,486.4 827.5,486.6 828.0,486.9 828.5,486.9 829.0,486.7 829.5,486.8 830.0,486.7 830.5,486.3 831.0,487.0 831.5,486.4 832.0,486.9 832.5,486.7 833.0,487.0 833.5,486.5 834.0,486.9 834.5,487.0 835.0,486.6 835.5,486.6 836.0,487.0 836.5,486.7 837.0,486.7 837.5,486.8 838.0,487.0 838.5,486.4 839.0,487.2 839.5,486.8 840.0,486.5 840.5,486.9 841.0,486.8 841.5,486.8 842.0,486.9 842.5,486.6 843.0,487.0 843.5,486.8 844.0,487.1 844.5,486.7 845.0,486.8 845.5,487.3 846.0,487.2 846.5,487.0 847.0,486.8 847.5,486.7 848.0,487.0 848.5,486.9 849.0,487.2 849.5,486.6 850.0,487.1 850.5,486.7 851.0,487.0 851.5,486.9 852.0,486.9 852.5,486.7 853.0,486.9 853.5,486.8 854.0,486.9 854.5,487.3 855.0,486.9 855.5,487.4 856.0,487.0 856.5,487.5 857.0,486.8 857.5,487.2 858.0,486.8 858.5,487.3 859.0,486.9 859.5,487.1 860.0,487.5 860.5,487.0 861.0,487.1 861.5,486.9 862.0,487.4 862.5,487.2 863.0,487.1 863.5,487.3 864.0,487.3 864.5,487.5 865.0,487.6 865.5,487.4 866.0,487.4 866.5,487.0 867.0,486.9 867.5,487.0 868.0,487.3 868.5,487.6 869.0,487.5 869.5,487.2 870.0,487.2 870.5,487.7 871.0,487.0 871.5,487.7 872.0,487.6 872.5,487.1 873.0,487.6 873.5,487.5 874.0,487.4 874.5,487.1 875.0,487.8 875.5,487.4 876.0,487.6 876.5,487.1 877.0,487.5 877.5,487.2 878.0,487.2 878.5,487.6 879.0,487.5 879.5,487.5 880.0,487.5 880.5,487.1 881.0,487.8 881.5,487.7 882.0,487.2 882.5,487.4 883.0,487.6 883.5,487.4 884.0,487.5 884.5,487.3 885.0,487.8 885.5,487.4 886.0,487.9 886.5,487.5 887.0,487.9 887.5,487.3 888.0,487.4 888.5,487.8 889.0,487.4 889.5,487.3 890.0,487.6 890.5,487.9 891.0,487.8 891.5,487.8 892.0,487.7 892.5,487.7 893.0,487.5 893.5,487.6 894.0,487.5 894.5,487.8 895.0,488.0 895.5,487.9 896.0,488.0 896.5,487.5 897.0,487.8 897.5,487.6 898.0,488.0 898.5,487.6 899.0,487.8 899.5,487.5 900.0,487.4 900.5,488.1 901.0,487.7 901.5,487.6 902.0,488.1 902.5,487.5 903.0,487.6 903.5,487.5 904.0,487.9 904.5,487.7 905.0,487.6 905.5,488.2 906.0,488.1 906.5,487.8 907.0,488.0 907.5,487.6 908.0,488.1 908.5,488.1 909.0,487.9 909.5,488.1 910.0,487.8 910.5,487.6 911.0,487.8 911.5,487.7 912.0,488.1 912.5,487.9 913.0,488.2 913.5,488.0 914.0,488.1 914.5,487.7 915.0,488.0 915.5,487.9 916.0,488.1 916.5,488.4 917.0,488.2 917.5,488.3 918.0,488.2 918.5,487.9 919.0,487.7 919.5,488.1 920.0,487.8 920.5,487.7 921.0,487.8 921.5,488.5 922.0,488.3 922.5,488.1 923.0,488.0 923.5,487.9 924.0,488.1 924.5,488.2 925.0,487.8 925.5,487.8 926.0,488.0 926.5,488.1 927.0,488.5 927.5,488.5 928.0,487.8 928.5,488.4 929.0,488.0 929.5,488.2 930.0,488.4 930.5,488.2 931.0,488.4 931.5,488.4 932.0,488.1 932.5,488.1 933.0,488.6 933.5,488.4 934.0,488.1 934.5,488.0 935.0,488.2 935.5,488.4 936.0,488.5 936.5,488.0 937.0,488.6 937.5,488.1 938.0,488.4 938.5,488.7 939.0,488.3 939.5,488.2 940.0,488.4 940.5,488.0 941.0,488.1 941.5,488.6 942.0,488.2 942.5,488.4 943.0,488.2 943.5,488.5 944.0,488.1 944.5,488.1 945.0,488.2 945.5,488.5 946.0,488.5 946.5,488.6 947.0,488.2 947.5,488.3 948.0,488.7 948.5,488.7 949.0,488.5 949.5,488.8 950.0,488.5" fill="none" stroke="#4B0082" stroke-width="4.4" stroke-linejoin="round" stroke-linecap="butt" stroke-dasharray="5.0 6.1"  stroke-dashoffset="7.9"/>
<polyline points="190.0,263.4 191.0,263.6 192.0,264.0 193.0,263.5 194.0,263.5 195.0,263.6 196.0,263.1 197.0,263.5 198.0,263.7 199.0,263.9 200.0,263.0 201.0,263.3 202.0,263.0 203.0,263.9 204.0,263.7 205.0,263.0 206.0,264.1 207.0,264.1 208.0,263.7 209.0,263.6 210.0,263.1 211.0,262.9 212.0,263.5 213.0,263.0 214.0,263.1 215.0,263.2 216.0,262.9 217.0,263.5 218.0,263.4 219.0,263.9 220.0,263.5 221.0,263.7 222.0,263.5 223.0,263.7 224.0,263.4 225.0,263.2 226.0,264.1 227.0,264.1 228.0,263.9 229.0,263.7 230.0,263.3 231.0,263.2 232.0,263.2 233.0,263.0 234.0,263.8 235.0,263.4 236.0,263.9 237.0,263.4 238.7,261.0 239.5,263.5 240.0,263.5 241.0,263.7 242.0,263.7 243.0,263.1 244.0,262.9 245.0,263.4 246.0,263.3 247.0,263.9 248.0,263.8 249.0,263.7 250.0,263.6 251.0,263.8 252.0,263.1 253.0,263.5 254.0,263.2 255.0,264.1 256.0,263.1 257.0,264.0 258.0,263.1 259.0,263.8 260.0,263.4 261.0,263.5 262.0,264.0 263.0,263.1 264.0,263.1 265.0,264.2 266.0,263.7 267.0,263.2 268.0,264.3 269.0,264.2 270.0,263.2 271.0,263.6 272.0,263.3 273.0,263.5 274.0,263.9 275.0,263.3 276.0,264.0 277.0,263.2 278.0,263.3 279.0,264.1 280.0,263.6 281.0,263.7 282.0,263.9 283.0,263.7 284.0,263.6 285.0,263.2 286.0,264.1 287.0,264.3 288.0,264.4 289.0,264.0 290.0,263.8 291.0,263.9 292.0,264.5 293.0,264.6 294.0,264.1 295.0,264.4 296.0,264.7 297.0,265.0 298.0,265.6 299.0,265.3 300.0,264.9 301.0,266.4 302.0,266.4 303.0,267.0 304.0,267.2 305.0,267.9 306.0,268.4 307.0,269.3 308.0,269.0 309.0,270.1 310.5,270.5 312.0,264.0 313.0,268.0 314.0,270.0 315.5,269.0 317.0,271.5 318.5,264.0 319.5,263.2 320.5,263.7 321.5,263.7 322.5,264.0 323.5,263.2 324.5,263.2 325.5,263.1 326.5,263.3 327.5,263.9 328.5,263.2 329.5,263.7 330.5,263.3 331.5,263.4 332.5,263.6 333.5,264.1 334.5,263.8 335.5,263.1 336.5,263.4 337.5,263.3 338.5,264.2 339.5,264.1 340.5,264.1 341.5,264.1 342.5,264.0 343.5,264.3 344.5,264.1 345.5,263.5 346.5,264.2 347.5,263.8 348.5,264.1 349.5,263.9 350.5,263.8 351.5,263.7 352.5,263.8 353.5,263.7 354.5,263.4 355.5,264.3 356.5,264.3 357.5,264.5 358.5,264.2 359.5,264.0 360.5,264.3 361.5,263.5 362.5,264.2 363.5,263.9 364.5,263.6 365.5,263.6 366.5,264.0 367.5,263.7 368.5,264.0 369.5,264.2 370.5,263.9 371.5,263.6 372.5,264.1 373.5,263.8 374.5,263.8 375.5,263.7 376.5,264.0 377.5,263.6 378.5,264.3 379.5,264.7 380.5,264.0 381.5,264.4 382.5,264.7 383.5,263.7 384.5,263.8 385.5,264.6 386.5,264.6 387.5,264.4 388.5,263.8 389.5,264.2 390.5,264.7 391.5,264.8 392.5,264.7 393.5,264.0 394.5,264.7 395.5,264.2 396.5,264.6 397.5,263.9 398.5,264.9 399.5,264.5 400.5,264.7 401.5,264.1 402.5,264.6 403.5,264.5 404.5,264.5 405.5,264.3 406.5,264.7 407.5,264.3 408.5,264.2 409.5,264.1 410.5,264.7 411.5,264.0 412.5,264.2 413.5,264.0 414.5,264.7 415.5,264.6 416.5,264.6 417.5,264.0 418.5,264.5 419.5,264.4 420.5,264.2 421.5,264.3 422.5,265.7 423.5,264.8 424.5,265.3 425.5,265.4 426.5,266.0 427.5,265.6 428.5,266.5 429.5,266.9 430.5,268.0 431.5,267.6 434.0,270.5 435.3,272.5 436.2,268.0 437.0,264.0 438.0,263.3 439.0,264.0 440.0,264.0 441.0,264.3 442.0,263.5 443.0,263.5 444.0,264.0 445.0,263.9 446.0,263.5 447.0,264.0 448.0,263.6 449.0,264.1 450.0,263.3 451.0,263.4 452.0,264.2 453.0,263.5 454.0,263.4 455.0,264.1 456.0,263.8 457.0,263.3 458.0,263.7 459.0,263.9 460.0,263.3 461.0,263.8 462.0,263.2 463.0,263.4 464.0,263.1 465.0,263.3 466.0,264.2 467.0,263.5 468.0,264.2 469.0,263.5 470.0,263.7 471.0,264.0 472.0,263.8 473.0,263.1 474.0,263.7 475.0,263.7 476.0,263.2 477.0,263.1 478.0,264.0 479.0,263.6 480.0,263.2 481.0,263.5 482.0,263.2 483.0,263.9 484.0,263.5 485.0,263.0 486.5,268.0 487.5,270.0 489.0,264.0 490.5,268.0 492.0,263.0 493.0,270.0 494.0,275.0 495.5,268.0 497.0,272.0 497.8,280.0 498.4,290.0 499.2,276.0 500.0,270.0 501.0,285.0 502.0,292.0 503.0,300.0 504.0,286.0 505.0,298.0 506.0,292.0 507.0,295.0 508.5,305.0 510.0,310.0 513.0,318.0 516.0,321.0 520.0,324.5 521.0,325.8 521.6,324.2 522.2,325.9 522.8,324.9 523.4,326.8 524.0,325.1 524.6,327.1 525.2,326.9 525.8,327.5 526.4,328.1 527.0,326.8 527.6,327.2 528.2,328.2 528.8,327.6 529.4,327.8 530.0,328.0 530.6,329.5 531.2,329.7 531.8,329.8 532.4,328.9 533.0,330.5 533.6,330.0 534.2,329.6 534.8,330.3 535.4,330.5 536.0,330.1 536.6,331.3 537.2,331.1 537.8,331.8 538.4,332.7 539.0,332.4 539.6,332.2 540.2,333.3 540.8,333.7 541.4,332.8 542.0,333.8 542.6,332.1 543.2,332.5 543.8,332.7 544.4,334.4 545.0,334.0 545.6,334.2 546.2,333.5 546.8,334.0 547.4,334.9 548.0,333.5 548.6,333.7 549.2,333.7 549.8,334.6 550.4,335.5 551.0,335.1 551.6,334.9 552.2,335.2 552.8,334.7 553.4,336.4 554.0,335.4 554.6,335.3 555.2,335.5 555.8,336.7 556.4,335.8 557.0,337.1 557.6,336.1 558.2,336.5 558.8,335.9 559.4,337.7 560.0,337.6 560.6,337.1 561.2,336.6 561.8,337.5 562.4,337.5 563.0,338.6 563.6,338.9 564.2,338.7 564.8,338.0 565.4,337.7 566.0,339.6 566.6,339.9 567.2,338.5 567.8,339.3 568.4,339.5 569.0,340.7 569.6,339.0 570.2,339.2 570.8,340.9 571.4,340.5 572.0,340.4 572.6,341.2 573.2,340.9 573.8,341.3 574.4,340.6 575.0,340.4 575.6,340.4 576.2,341.1 576.8,341.9 577.4,341.5 578.0,341.6 578.6,342.3 579.2,342.6 579.8,342.5 580.5,344.3 581.0,342.2 581.6,344.3 582.1,341.2 582.7,344.6 583.2,341.0 583.8,344.6 584.3,339.7 584.9,344.9 585.4,340.2 586.0,345.2 586.5,340.6 587.1,345.3 587.6,340.4 588.2,345.3 588.7,341.5 589.3,345.8 589.8,342.6 590.4,345.9 590.9,343.7 591.5,346.0 592.0,343.0 592.6,346.2 593.1,341.8 593.7,346.1 594.2,340.9 594.8,346.4 595.3,342.2 595.9,347.0 596.4,344.5 597.0,347.0 597.5,343.9 598.1,346.8 598.6,344.3 599.2,347.4 599.7,342.4 600.3,347.5 600.8,340.6 601.4,347.8 601.9,339.3 602.5,347.8 603.0,339.0 603.6,348.0 604.1,338.6 604.7,348.3 605.2,339.0 605.8,348.0 606.3,337.8 606.9,348.6 607.4,336.4 608.0,348.7 608.5,335.8 609.1,348.9 609.6,337.4 610.2,349.0 610.7,339.0 611.3,348.9 611.8,345.6 612.4,349.2 612.9,343.3 613.5,349.3 614.0,341.4 614.6,349.6 615.1,340.5 615.7,349.7 616.2,341.3 616.8,349.7 617.3,341.7 617.9,349.8 618.4,342.6 619.0,350.1 619.5,344.6 620.1,350.4 620.6,346.3 621.2,350.4 621.7,346.0 622.3,350.6 622.8,346.4 623.4,351.1 623.9,342.7 624.5,350.9 625.0,339.9 625.6,351.2 626.1,338.1 626.7,351.3 627.2,339.9 627.8,351.2 628.3,342.5 628.9,351.6 629.4,344.7 630.0,351.9 630.5,349.0 631.1,352.0 631.6,349.2 632.2,352.2 632.7,350.4 633.3,352.1 633.8,350.8 634.4,352.2 634.9,352.3 635.5,352.1 636.0,353.4 636.6,352.5 637.1,350.4 637.7,352.3 638.2,343.3 638.8,352.5 639.3,337.8 639.9,352.8 640.4,336.9 641.0,352.8 641.5,335.7 642.1,353.2 642.6,334.1 643.2,353.4 643.7,334.9 644.3,353.4 644.8,336.5 645.4,353.9 645.9,339.0 646.5,354.2 647.0,340.6 647.6,354.0 648.1,342.0 648.7,354.0 649.2,343.7 649.8,354.9 650.3,344.8 650.9,354.8 651.4,345.7 652.0,354.8 652.5,346.0 653.1,355.5 653.6,348.5 654.2,355.3 654.7,352.2 655.3,355.7 655.8,354.4 656.4,355.7 656.9,351.7 657.5,355.6 658.0,348.4 658.6,355.6 659.1,347.7 659.7,355.8 660.2,346.8 660.8,356.4 661.3,350.0 661.9,356.1 662.4,353.4 663.0,356.5 663.5,354.6 664.1,356.5 664.6,353.2 665.2,356.6 665.7,351.4 666.3,356.9 666.8,346.6 667.4,357.0 667.9,340.8 668.5,356.9 669.0,335.5 669.6,356.8 670.1,337.6 670.7,357.1 671.2,339.4 671.8,357.3 672.3,340.4 672.9,357.5 673.4,341.5 674.0,357.5 674.5,342.9 675.1,357.6 675.6,348.5 676.2,357.9 676.7,347.4 677.3,357.8 677.8,346.4 678.4,357.7 678.9,345.6 679.5,358.1 680.0,344.7 680.6,357.6 681.1,346.7 681.7,358.2 682.2,350.3 682.8,358.0 683.3,353.4 683.9,358.2 684.4,353.7 685.0,358.4 685.5,349.7 687.4,356.0 688.2,352.1 689.0,347.2 689.8,342.8 690.4,348.9 691.0,353.8 691.6,359.6 692.2,357.0 692.8,352.4 693.4,350.1 694.0,346.1 694.6,343.4 695.4,348.7 696.2,355.6 697.0,360.8 697.6,357.7 698.2,355.3 698.8,351.5 699.4,349.2 700.0,345.8 700.6,348.7 701.2,350.6 701.8,352.2 702.4,355.2 703.0,357.2 703.6,357.3 704.2,356.5 704.8,355.3 705.4,354.6 706.0,354.2 706.8,355.8 707.6,359.0 708.4,360.8 709.0,356.9 709.6,353.6 710.2,350.0 710.8,346.8 711.4,344.0 712.0,340.0 712.6,336.4 713.2,332.6 714.1,334.8 715.0,338.0 715.6,360.8 716.5,349.0 717.4,337.4 718.0,345.6 718.6,352.4 719.2,360.8 720.4,338.0 721.0,339.4 721.6,342.0 722.2,344.0 723.4,362.0 724.0,352.4 724.6,341.6 725.5,346.5 726.4,350.0 727.0,354.3 727.6,357.7 728.2,362.6 729.0,363.0 729.8,363.0 730.6,362.0 731.2,362.4 731.8,361.6 732.4,361.2 733.0,361.3 733.6,361.5 734.2,360.8 734.9,362.1 735.6,361.7 736.4,362.3 737.1,362.4 737.8,363.2 738.4,361.8 739.0,360.3 739.6,358.4 740.2,357.2 741.0,358.7 741.8,361.1 742.6,362.0 743.4,357.6 744.2,353.6 745.0,350.0 745.8,347.1 746.6,345.4 747.4,342.2 748.0,343.0 748.6,344.9 749.2,346.1 749.8,347.1 750.4,347.6 751.0,352.1 751.6,355.1 752.2,359.6 753.0,360.5 753.8,362.1 754.6,362.6 755.2,362.5 755.8,363.4 756.4,364.1 757.0,364.5 757.6,363.9 758.2,364.4 759.0,363.4 759.8,362.8 760.6,363.2 761.5,353.3 762.4,344.0 763.0,338.4 763.6,332.6 764.5,337.9 765.4,344.0 766.0,351.7 766.6,358.6 767.2,365.6 767.8,345.2 768.4,355.0 769.0,364.4 769.8,359.1 770.6,352.5 771.4,347.0 772.0,353.0 772.6,358.4 773.2,364.4 774.1,359.9 775.0,356.0 775.8,358.2 776.6,362.1 777.4,364.4 778.0,360.2 778.6,354.0 779.2,350.0 780.1,346.1 781.0,341.6 781.9,345.7 782.8,351.2 783.4,358.3 784.0,365.6 784.9,359.9 785.8,354.8 786.4,357.8 787.0,359.5 787.6,362.0 788.2,364.4 789.0,361.0 789.8,357.6 790.6,354.8 791.4,351.8 792.2,348.9 793.0,347.0 793.8,349.2 794.6,353.1 795.4,356.0 796.2,359.2 797.0,361.9 797.8,364.4 798.4,364.8 799.0,366.8 799.6,366.8 800.4,364.9 801.2,364.3 802.0,363.2 803.0,364.4 803.8,353.1 804.6,341.9 805.4,331.4 806.0,336.3 806.6,340.1 807.2,344.0 808.4,334.4 809.0,348.8 809.6,364.4 810.5,355.5 811.4,347.6 812.0,353.7 812.6,358.6 813.2,364.4 814.4,344.0 815.0,350.9 815.6,358.1 816.2,365.6 817.1,356.9 818.0,348.8 818.9,356.1 819.8,363.2 820.4,363.5 821.0,364.5 821.6,364.3 822.2,365.6 822.8,366.0 823.4,366.5 824.0,366.4 824.6,367.6 825.2,367.4 825.8,367.7 826.4,366.9 827.0,366.2 827.6,365.4 828.2,365.6 829.0,366.2 829.8,366.1 830.6,366.8 831.4,360.7 832.2,355.7 833.0,350.0 833.6,350.7 834.2,352.6 834.8,354.0 835.4,354.0 836.0,356.0 836.9,362.8 837.8,369.2 838.4,364.7 839.0,360.9 839.6,357.6 840.2,353.9 840.8,348.9 841.4,345.2 842.0,347.2 842.6,348.2 843.2,350.0 844.1,359.7 845.0,368.0 845.9,359.7 846.8,352.4 847.4,356.3 848.0,358.9 848.6,363.3 849.2,366.8 850.0,368.0 850.8,369.1 851.6,369.2 852.2,369.0 852.8,368.1 853.4,367.2 854.0,367.0 854.6,366.4 855.2,365.6 855.8,360.7 856.4,355.9 857.0,350.9 857.6,346.1 858.2,340.4 858.8,341.6 859.4,342.9 860.0,343.7 860.6,344.0 861.2,345.2 862.1,357.7 863.0,369.2 863.6,365.2 864.2,362.1 864.8,358.4 865.4,354.6 866.0,350.9 866.6,346.4 867.4,353.9 868.2,360.8 869.0,368.0 869.6,358.7 870.2,350.0 871.0,351.8 871.8,353.8 872.6,354.8 873.4,359.8 874.2,364.7 875.0,370.4 875.8,366.0 876.6,361.5 877.4,356.0 878.0,354.8 878.6,353.9 879.2,353.1 879.8,353.1 880.4,352.8 881.0,351.1 881.6,351.2 882.2,350.0 882.8,351.7 883.4,354.3 884.0,357.3 884.6,360.0 885.2,362.0 885.8,357.2 886.4,352.7 887.0,347.4 887.6,342.6 888.2,338.0 888.8,339.7 889.4,340.6 890.0,342.6 890.6,344.5 891.2,346.4 892.4,369.2 893.2,365.1 894.0,359.9 894.8,356.0 895.4,355.6 896.0,356.8 896.6,356.0 897.5,363.4 898.4,370.4 899.2,370.6 900.0,371.0 900.6,364.0 901.2,356.0 902.1,348.2 903.0,339.8 903.9,342.4 904.8,344.0 905.4,351.3 906.0,358.4 906.6,353.2 907.2,347.6 908.4,353.6 909.0,369.8 909.8,369.0 910.6,369.3 911.4,369.2 912.0,364.8 912.6,360.8 913.5,362.2 914.4,364.4 915.0,363.8 915.6,364.2 916.2,363.2 917.0,357.8 917.8,352.6 918.6,348.2 919.4,348.5 920.2,348.9 921.0,350.0 921.8,352.8 922.6,357.9 923.4,360.8 924.2,357.1 925.0,352.4 925.8,349.4 926.4,351.6 927.0,353.3 927.6,356.0 928.5,369.8 929.2,366.3 929.9,363.6 930.5,360.2 931.2,356.0 932.0,354.2 932.8,353.3 933.6,351.2 934.4,355.2 935.2,358.5 936.0,363.2 936.9,367.5 937.8,372.2 938.4,369.8 939.0,366.8 939.6,363.9 940.2,361.4 940.8,357.5 941.4,354.8 942.0,354.9 942.6,354.9 943.2,354.2 944.1,359.7 945.0,363.8 945.9,359.3 946.8,353.6 947.4,347.6 948.0,340.4 948.6,339.5 949.2,339.2 950.1,345.6 951.0,352.4" fill="none" stroke="#008080" stroke-width="4.2" stroke-linejoin="round" stroke-linecap="square" />
</g>
<g clip-path="url(#cC)">
<polyline points="156.5,707.0 157.9,720.5 159.5,735.0 161.2,753.8 163.5,775.0 166.0,800.0 169.0,826.0 172.0,850.0 175.0,870.0 177.1,886.4 180.0,909.2 183.1,931.0 186.1,953.4 188.5,970.0 191.0,981.0 194.9,997.1 198.5,1011.0 201.5,1020.0 205.9,1028.9 210.2,1038.8 213.3,1049.5 216.5,1060.3 219.6,1070.8 223.8,1081.3 227.7,1091.8 233.6,1100.5 242.0,1107.9 247.0,1117.0 252.5,1127.1 260.9,1134.1 272.1,1136.0 283.0,1138.7 293.8,1140.1 304.8,1143.0 316.0,1144.0 326.8,1147.1 338.0,1149.0 360.0,1151.0 390.0,1153.5 420.0,1155.5 450.0,1157.0 480.0,1158.0 520.0,1158.6 988.0,1158.7" fill="none" stroke="#4B0082" stroke-width="4.2" stroke-linejoin="round" stroke-linecap="butt" stroke-dasharray="4.2 6.95" />
<polyline points="155.0,1077.6 168.0,1083.5 177.0,1090.0 190.0,1096.0 200.0,1099.5 218.2,1105.8 230.8,1112.8 244.8,1116.7 263.0,1122.0 271.4,1123.8 284.0,1129.0 303.6,1133.8 326.0,1138.7 340.0,1140.8 360.0,1143.0 380.0,1146.5 420.0,1150.5 450.0,1153.0 480.0,1154.5 530.0,1156.0 600.0,1157.0 630.0,1157.5 700.0,1158.0 800.0,1158.2 900.0,1158.4 987.0,1158.4" fill="none" stroke="#008080" stroke-width="4.2" stroke-linejoin="round" stroke-linecap="square" />
</g>
<line x1="152.6" y1="1158.7" x2="988" y2="1158.7" stroke="#000" stroke-width="2" stroke-dasharray="7.6 3.65"/>
<g stroke="#000" stroke-width="2.2" fill="none">
<rect x="152.6" y="2.6" width="835.4" height="496.7"/>
<line x1="152.6" y1="251" x2="988" y2="251"/>
<rect x="152.6" y="684.8" width="835.4" height="496.8"/>
</g>
<rect x="721.2" y="136.2" width="250.4" height="98.8" rx="4.5" ry="4.5" fill="#fff" fill-opacity="0.8" stroke="#d3d3d3" stroke-width="4.2"/>
<line x1="733.8" y1="160" x2="799.8" y2="160" stroke="#4B0082" stroke-width="4.2" stroke-dasharray="4.2 6.95"/>
<line x1="731.6" y1="204.7" x2="799.8" y2="204.7" stroke="#008080" stroke-width="4.2"/>
<text x="822" y="171.2" class="lg">2 fermions</text>
<text x="822" y="216" class="lg">3 fermions</text>
<rect x="721.2" y="700.5999999999999" width="250.4" height="98.8" rx="4.5" ry="4.5" fill="#fff" fill-opacity="0.8" stroke="#d3d3d3" stroke-width="4.2"/>
<line x1="733.8" y1="724.4" x2="799.8" y2="724.4" stroke="#4B0082" stroke-width="4.2" stroke-dasharray="4.2 6.95"/>
<line x1="731.6" y1="769.0999999999999" x2="799.8" y2="769.0999999999999" stroke="#008080" stroke-width="4.2"/>
<text x="822" y="735.5999999999999" class="lg">2 fermions</text>
<text x="822" y="780.4" class="lg">3 fermions</text>
<g transform="translate(118.25,129.85) scale(0.9550,1.0190)"><text x="0" y="0" font-family="Liberation Serif" font-size="40" stroke="#000" stroke-width="0.5">1</text></g>
<g transform="translate(118.45,265.40) scale(0.9550,1.0190)"><text x="0" y="0" font-family="Liberation Serif" font-size="40" stroke="#000" stroke-width="0.5">0</text></g>
<g transform="translate(69.34,314.20) scale(0.9550,1.0190)"><text x="0" y="0" font-family="Liberation Serif" font-size="40" stroke="#000" stroke-width="0.5">10</text></g>
<g transform="translate(69.34,438.00) scale(0.9550,1.0190)"><text x="0" y="0" font-family="Liberation Serif" font-size="40" stroke="#000" stroke-width="0.5">10</text></g>
<g transform="translate(122.27,298.60) scale(0.6500,0.6850)"><text x="0" y="0" font-family="Liberation Serif" font-size="40" stroke="#000" stroke-width="0.5">1</text></g>
<g transform="translate(121.67,422.00) scale(0.6500,0.6850)"><text x="0" y="0" font-family="Liberation Serif" font-size="40" stroke="#000" stroke-width="0.5">5</text></g>
<g transform="translate(180.85,540.50) scale(0.9550,1.0190)"><text x="0" y="0" font-family="Liberation Serif" font-size="40" stroke="#000" stroke-width="0.5">0</text></g>
<g transform="translate(288.07,540.50) scale(0.9550,1.0190)"><text x="0" y="0" font-family="Liberation Serif" font-size="40" stroke="#000" stroke-width="0.5">500</text></g>
<g transform="translate(406.10,540.50) scale(0.9550,1.0190)"><text x="0" y="0" font-family="Liberation Serif" font-size="40" stroke="#000" stroke-width="0.5">1000</text></g>
<g transform="translate(532.10,540.50) scale(0.9550,1.0190)"><text x="0" y="0" font-family="Liberation Serif" font-size="40" stroke="#000" stroke-width="0.5">1500</text></g>
<g transform="translate(658.55,540.50) scale(0.9550,1.0190)"><text x="0" y="0" font-family="Liberation Serif" font-size="40" stroke="#000" stroke-width="0.5">2000</text></g>
<g transform="translate(785.05,540.50) scale(0.9550,1.0190)"><text x="0" y="0" font-family="Liberation Serif" font-size="40" stroke="#000" stroke-width="0.5">2500</text></g>
<g transform="translate(911.67,540.50) scale(0.9550,1.0190)"><text x="0" y="0" font-family="Liberation Serif" font-size="40" stroke="#000" stroke-width="0.5">3000</text></g>
<g transform="translate(521.05,592.18) scale(0.9505,0.9351)"><text x="0" y="0" font-family="Liberation Serif" font-size="40" >Epoch</text></g>
<g transform="translate(42.81,464.00) scale(0.9429,0.9418)"><g transform="rotate(-90)"><text x="0" y="0" font-family="Liberation Serif" font-size="40" >Asymmetry</text></g></g>
<g transform="translate(95.90,219.40) scale(0.9900,1.0300)"><g transform="rotate(-90)"><text x="0" y="0" font-family="Liberation Serif" font-size="40" >E</text></g></g>
<g transform="translate(101.34,194.70) scale(0.6593,0.6393)"><g transform="rotate(-90)"><text x="0" y="0" font-family="Liberation Serif" font-size="40" >VMC</text></g></g>
<g transform="translate(96.20,119.34) scale(0.9900,1.0300)"><g transform="rotate(-90)"><text x="0" y="0" font-family="Liberation Serif" font-size="40" >E</text></g></g>
<g transform="translate(102.00,93.12) scale(0.6423,0.6244)"><g transform="rotate(-90)"><text x="0" y="0" font-family="Liberation Serif" font-size="40" >Exact</text></g></g>
<g transform="translate(821.88,171.30) scale(0.7930,0.7930)"><text x="0" y="0" font-family="Liberation Serif" font-size="40" >2 fermions</text></g>
<g transform="translate(821.88,216.10) scale(0.7930,0.7930)"><text x="0" y="0" font-family="Liberation Serif" font-size="40" >3 fermions</text></g>
<g transform="translate(821.88,735.70) scale(0.7930,0.7930)"><text x="0" y="0" font-family="Liberation Serif" font-size="40" >2 fermions</text></g>
<g transform="translate(821.88,780.50) scale(0.7930,0.7930)"><text x="0" y="0" font-family="Liberation Serif" font-size="40" >3 fermions</text></g>
<g transform="translate(89.36,751.70) scale(0.9212,1.0143)"><text x="0" y="0" font-family="Liberation Sans" font-size="40" stroke="#000" stroke-width="0.6">2.5</text></g>
<g transform="translate(89.33,892.10) scale(0.9346,1.0286)"><text x="0" y="0" font-family="Liberation Sans" font-size="40" stroke="#000" stroke-width="0.6">2.0</text></g>
<g transform="translate(90.20,1032.10) scale(0.9000,1.0036)"><text x="0" y="0" font-family="Liberation Sans" font-size="40" stroke="#000" stroke-width="0.6">1.5</text></g>
<g transform="translate(90.14,1172.40) scale(0.9196,1.0143)"><text x="0" y="0" font-family="Liberation Sans" font-size="40" stroke="#000" stroke-width="0.6">1.0</text></g>
<g transform="translate(147.57,1221.60) scale(1.0300,1.0600)"><text x="0" y="0" font-family="Liberation Sans" font-size="40" stroke="#000" stroke-width="0.6">0</text></g>
<g transform="translate(354.64,1222.00) scale(1.0300,1.0600)"><text x="0" y="0" font-family="Liberation Sans" font-size="40" stroke="#000" stroke-width="0.6">1</text></g>
<g transform="translate(561.65,1222.00) scale(1.0300,1.0600)"><text x="0" y="0" font-family="Liberation Sans" font-size="40" stroke="#000" stroke-width="0.6">2</text></g>
<g transform="translate(770.42,1221.50) scale(1.0300,1.0600)"><text x="0" y="0" font-family="Liberation Sans" font-size="40" stroke="#000" stroke-width="0.6">3</text></g>
<g transform="translate(978.47,1221.00) scale(1.0300,1.0600)"><text x="0" y="0" font-family="Liberation Sans" font-size="40" stroke="#000" stroke-width="0.6">4</text></g>
<g transform="translate(62.70,1042.44) scale(0.9770,1.0600)"><g transform="rotate(-90)"><text x="0" y="0" font-family="Liberation Serif" font-size="40" >E</text></g></g>
<g transform="translate(68.80,1018.36) scale(0.6846,0.6576)"><g transform="rotate(-90)"><text x="0" y="0" font-family="Liberation Serif" font-size="40" >MC</text></g></g>
<g transform="translate(60.82,974.82) scale(0.9105,0.8091)"><g transform="rotate(-90)"><text x="0" y="0" font-family="Liberation Sans" font-size="40" stroke="#000" stroke-width="0.9">(</text></g></g>
<g transform="translate(60.58,939.80) scale(0.9026,0.7727)"><g transform="rotate(-90)"><text x="0" y="0" font-family="Liberation Sans" font-size="40" stroke="#000" stroke-width="0.9">)</text></g></g>
<g transform="translate(62.50,908.64) scale(0.9770,1.0600)"><g transform="rotate(-90)"><text x="0" y="0" font-family="Liberation Serif" font-size="40" >E</text></g></g>
<g transform="translate(69.20,883.44) scale(0.6538,0.6389)"><g transform="rotate(-90)"><text x="0" y="0" font-family="Liberation Serif" font-size="40" >Exact</text></g></g>
<rect x="108.8" y="289" width="16.2" height="2.1" fill="#000"/>
<rect x="108.8" y="412.4" width="16.2" height="2.1" fill="#000"/>
<polygon points="68,122.6 99,132.1 99,135.2 68,125.7" fill="#000"/>
<polygon points="34.8,915.2 66.1,924.8 66.1,928 34.8,918.4" fill="#000"/>
<text x="-3.2" y="27.1" class="pl">a</text>
<text x="-3.0" y="668.25" class="pl">b</text>
<rect x="41.8" y="939.8" width="3.4" height="19.3" fill="#000"/>
<path d="M44.5,949.9 L55,949.9 Q60.6,949.9 60.6,943.3" fill="none" stroke="#000" stroke-width="3.8"/>
<rect x="562.9" y="1244.2" width="19" height="3.5" fill="#000"/>
<path d="M572.4,1247 L572.4,1257.5 Q572.6,1263.4 579.2,1263.4" fill="none" stroke="#000" stroke-width="3.9"/>
</svg>
</body></html>
